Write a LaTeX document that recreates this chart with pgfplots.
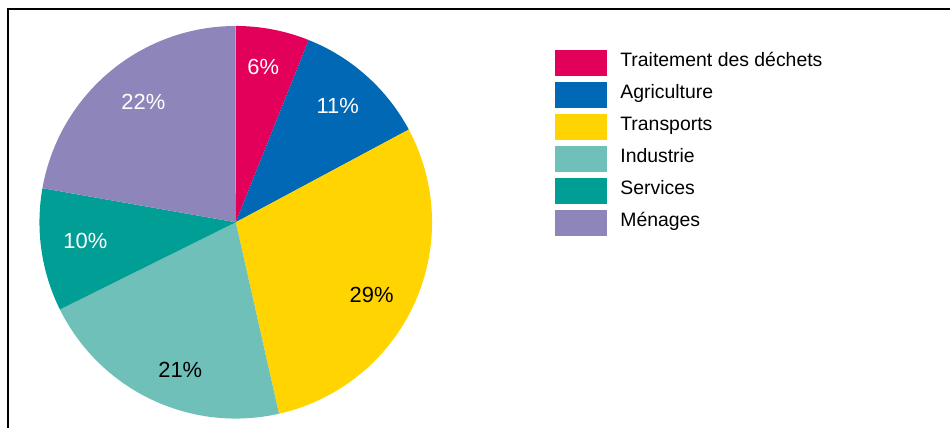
\documentclass[border=0pt]{standalone}
\usepackage{pgfplots}
\pgfplotsset{compat=1.18}
\usepackage{fontspec}
\setmainfont{Liberation Sans}
\definecolor{cred}{RGB}{226,0,90}
\definecolor{cblue}{RGB}{0,104,180}
\definecolor{cyellow}{RGB}{255,212,0}
\definecolor{cltteal}{RGB}{110,192,184}
\definecolor{cteal}{RGB}{0,158,148}
\definecolor{cpurple}{RGB}{142,134,186}
% pie geometry (pixel units)
\def\cx{236}\def\cy{205.5}\def\R{196.5}\def\tot{99}
\begin{document}
\begin{tikzpicture}
\begin{axis}[
  x=1bp, y=1bp, xmin=0, xmax=951, ymin=0, ymax=428,
  hide axis, clip=false,
  legend cell align=left,
  legend image code/.code={\fill[#1,draw=none] (0bp,-13bp) rectangle (52bp,13bp);},
  legend style={at={(axis cs:556,378)}, anchor=north west, draw=none, fill=none,
    inner sep=0pt, outer sep=0pt, row sep=6bp, column sep=13bp,
    nodes={inner sep=0pt, outer sep=0pt, text height=0.72em, text depth=0pt},
    font=\fontsize{19.5}{21}\selectfont},
]
\path (axis cs:0,0) rectangle (axis cs:951,428);
% slices: start (cumulative %) and share (%)
\addplot[fill=cred, draw=none, domain=0:1, samples=40, variable=\t]
  ({\cx+\R*cos(90-360*(0+6*\t)/\tot)}, {\cy+\R*sin(90-360*(0+6*\t)/\tot)}) -- (axis cs:\cx,\cy) -- cycle;
\addlegendentry{Traitement des déchets}
\addplot[fill=cblue, draw=none, domain=0:1, samples=40, variable=\t]
  ({\cx+\R*cos(90-360*(6+11*\t)/\tot)}, {\cy+\R*sin(90-360*(6+11*\t)/\tot)}) -- (axis cs:\cx,\cy) -- cycle;
\addlegendentry{Agriculture}
\addplot[fill=cyellow, draw=none, domain=0:1, samples=80, variable=\t]
  ({\cx+\R*cos(90-360*(17+29*\t)/\tot)}, {\cy+\R*sin(90-360*(17+29*\t)/\tot)}) -- (axis cs:\cx,\cy) -- cycle;
\addlegendentry{Transports}
\addplot[fill=cltteal, draw=none, domain=0:1, samples=60, variable=\t]
  ({\cx+\R*cos(90-360*(46+21*\t)/\tot)}, {\cy+\R*sin(90-360*(46+21*\t)/\tot)}) -- (axis cs:\cx,\cy) -- cycle;
\addlegendentry{Industrie}
\addplot[fill=cteal, draw=none, domain=0:1, samples=40, variable=\t]
  ({\cx+\R*cos(90-360*(67+10*\t)/\tot)}, {\cy+\R*sin(90-360*(67+10*\t)/\tot)}) -- (axis cs:\cx,\cy) -- cycle;
\addlegendentry{Services}
\addplot[fill=cpurple, draw=none, domain=0:1, samples=60, variable=\t]
  ({\cx+\R*cos(90-360*(77+22*\t)/\tot)}, {\cy+\R*sin(90-360*(77+22*\t)/\tot)}) -- (axis cs:\cx,\cy) -- cycle;
\addlegendentry{Ménages}
% labels
\begin{scope}[every node/.style={font=\fontsize{22}{24}\selectfont, inner sep=0pt}]
\node[white] at (axis cs:263.5,360.5) {6\%};
\node[white] at (axis cs:338,322) {11\%};
\node[black] at (axis cs:372,133) {29\%};
\node[black] at (axis cs:180.5,58) {21\%};
\node[white] at (axis cs:85.5,187) {10\%};
\node[white] at (axis cs:143.5,326) {22\%};
\end{scope}
% frame
\draw[line width=2bp, black] (axis cs:951,419) -- (axis cs:8,419) -- (axis cs:8,0);
\end{axis}
\end{tikzpicture}
\end{document}
